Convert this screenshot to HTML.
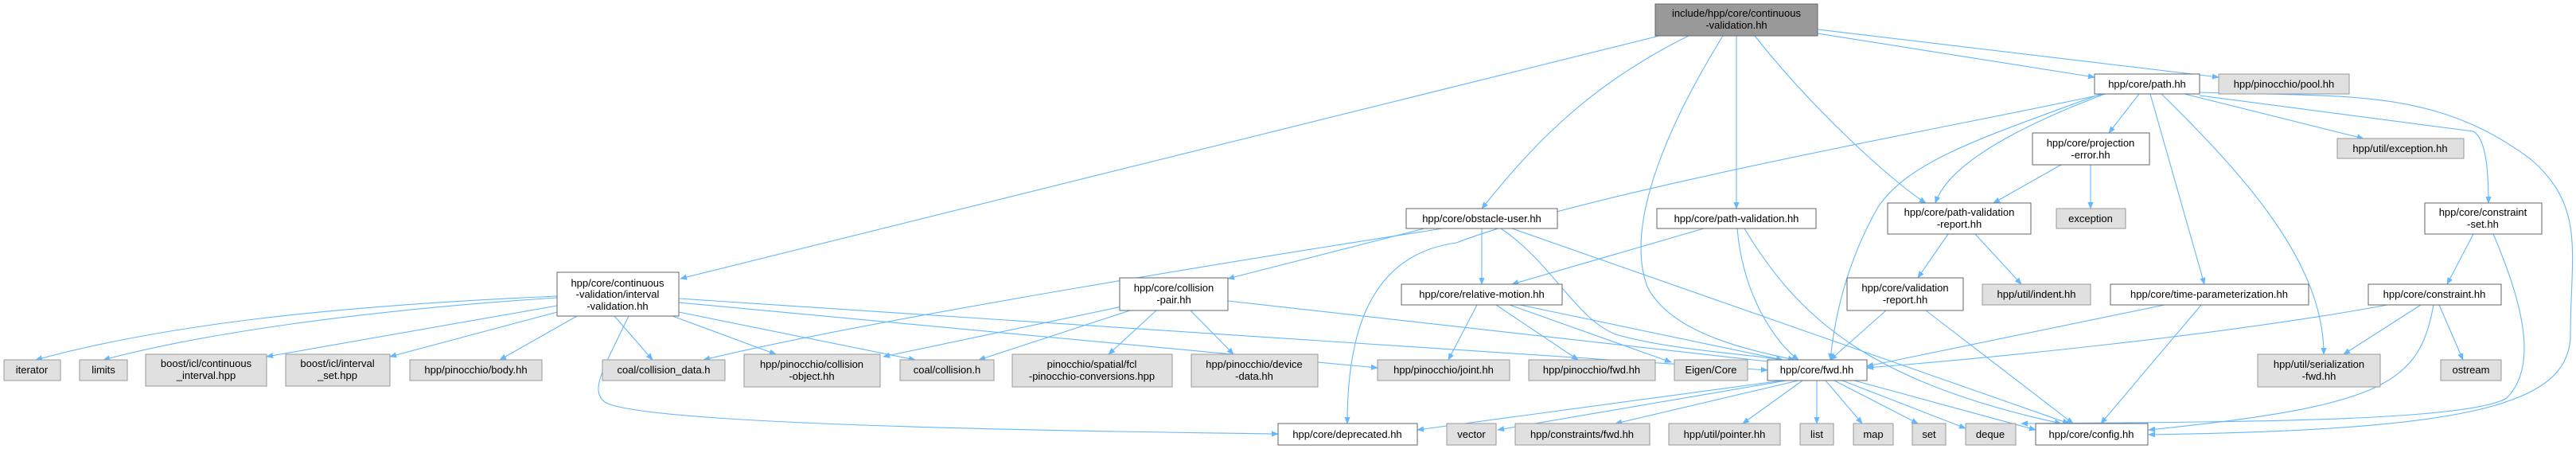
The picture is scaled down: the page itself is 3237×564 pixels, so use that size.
<!DOCTYPE html>
<html><head><meta charset="utf-8"><style>
html,body{margin:0;padding:0;background:#fff;}
svg{display:block;}
text{font-family:"Liberation Sans",sans-serif;font-size:13px;fill:#000;}
.e{fill:none;stroke:#63b8ff;stroke-width:1.1;}
</style></head><body>
<svg width="3237" height="564" viewBox="0 0 3237 564" xmlns="http://www.w3.org/2000/svg">
<defs><marker id="a" viewBox="0 0 10 10" refX="9" refY="5" markerWidth="9" markerHeight="9" orient="auto" markerUnits="userSpaceOnUse"><path d="M0,1 L10,5 L0,9 z" fill="#63b8ff"/></marker></defs>
<g marker-end="url(#a)">
<path class="e" d="M2085,45 L855,350"/>
<path class="e" d="M2122,45 C1990,110 1920,190 1862,262"/>
<path class="e" d="M2165,45 C2100,150 2040,280 2070,360 C2100,420 2200,440 2255,452"/>
<path class="e" d="M2182,45 L2182,262"/>
<path class="e" d="M2205,45 C2280,140 2380,230 2420,255"/>
<path class="e" d="M2284,42 L2632,97"/>
<path class="e" d="M2284,37 L2788,97"/>
<path class="e" d="M2645,118 C2450,160 2000,240 1830,305 C1720,320 1693,420 1693,532"/>
<path class="e" d="M2645,118 C2560,150 2450,200 2432,255"/>
<path class="e" d="M2688,118 L2650,167"/>
<path class="e" d="M2702,118 L2770,357"/>
<path class="e" d="M2716,118 C2820,220 2920,330 2920,445"/>
<path class="e" d="M2745,118 L2970,174"/>
<path class="e" d="M2764,120 L3108,165 C3125,175 3127,220 3127,255"/>
<path class="e" d="M2764,116 C2950,122 3060,110 3180,200 C3250,260 3230,320 3230,420 C3230,510 3100,540 2700,546"/>
<path class="e" d="M2640,118 C2500,170 2400,200 2360,260 C2320,330 2305,400 2300,452"/>
<path class="e" d="M2590,207 L2505,255"/>
<path class="e" d="M2627,207 L2627,262"/>
<path class="e" d="M2448,294 L2410,349"/>
<path class="e" d="M2482,294 L2540,357"/>
<path class="e" d="M2370,390 L2300,452"/>
<path class="e" d="M2420,390 L2605,532"/>
<path class="e" d="M2720,383 L2346,460"/>
<path class="e" d="M2766,383 L2640,532"/>
<path class="e" d="M3108,294 L3075,357"/>
<path class="e" d="M3133,294 C3170,380 3190,460 3150,500 C3100,530 2800,530 2540,532"/>
<path class="e" d="M3000,383 C2800,420 2500,450 2346,462"/>
<path class="e" d="M3042,383 L2945,445"/>
<path class="e" d="M3065,383 L3095,452"/>
<path class="e" d="M3058,383 C3040,480 3000,510 2700,540"/>
<path class="e" d="M1813,287 C1600,320 1100,400 884,452"/>
<path class="e" d="M1790,287 L1543,350"/>
<path class="e" d="M1862,287 L1862,357"/>
<path class="e" d="M1886,287 C1950,330 1980,400 2030,420 C2100,440 2200,445 2240,452"/>
<path class="e" d="M1900,287 L2600,532"/>
<path class="e" d="M2141,287 L1900,357"/>
<path class="e" d="M2183,287 C2190,370 2230,430 2260,452"/>
<path class="e" d="M2192,287 C2260,400 2350,480 2590,532"/>
<path class="e" d="M1856,383 L1820,452"/>
<path class="e" d="M1880,383 L1983,452"/>
<path class="e" d="M1897,383 L2100,455"/>
<path class="e" d="M1910,383 L2240,452"/>
<path class="e" d="M1410,385 L1110,448"/>
<path class="e" d="M1420,390 L1230,452"/>
<path class="e" d="M1453,390 L1393,445"/>
<path class="e" d="M1496,390 L1550,445"/>
<path class="e" d="M1543,378 L2230,455"/>
<path class="e" d="M700,372 C400,385 200,410 45,452"/>
<path class="e" d="M700,374 C450,390 250,420 130,452"/>
<path class="e" d="M700,384 L335,448"/>
<path class="e" d="M700,392 L490,448"/>
<path class="e" d="M725,397 L628,452"/>
<path class="e" d="M772,397 L820,452"/>
<path class="e" d="M790,397 C760,460 740,490 760,505 C800,530 1200,540 1606,545"/>
<path class="e" d="M845,397 L975,445"/>
<path class="e" d="M853,392 L1150,452"/>
<path class="e" d="M853,380 L1731,462"/>
<path class="e" d="M853,375 L2221,465"/>
<path class="e" d="M2240,478 L1781,540"/>
<path class="e" d="M2245,478 L1882,540"/>
<path class="e" d="M2260,478 L2030,532"/>
<path class="e" d="M2265,478 L2190,532"/>
<path class="e" d="M2283,478 L2283,532"/>
<path class="e" d="M2294,478 L2340,532"/>
<path class="e" d="M2305,478 L2410,532"/>
<path class="e" d="M2315,478 L2470,538"/>
<path class="e" d="M2330,478 L2558,540"/>
</g>
<g stroke-width="1">
<rect x="2080" y="5" width="204" height="40" fill="#999" stroke="#666"/>
<text x="2182" y="21" text-anchor="middle">include/hpp/core/continuous</text>
<text x="2182" y="36" text-anchor="middle">-validation.hh</text>
<g fill="#fff" stroke="#666">
<rect x="700" y="342" width="153" height="55"/>
<rect x="1767" y="262" width="190" height="25"/>
<rect x="2082" y="262" width="200" height="25"/>
<rect x="1761" y="357" width="202" height="26"/>
<rect x="1407" y="349" width="136" height="41"/>
<rect x="2221" y="452" width="125" height="26"/>
<rect x="1606" y="532" width="175" height="27"/>
<rect x="2632" y="93" width="132" height="25"/>
<rect x="2554" y="167" width="147" height="40"/>
<rect x="2372" y="255" width="180" height="39"/>
<rect x="2321" y="349" width="146" height="41"/>
<rect x="2652" y="357" width="249" height="26"/>
<rect x="3047" y="255" width="147" height="39"/>
<rect x="2976" y="357" width="167" height="26"/>
<rect x="2558" y="532" width="141" height="27"/>
</g>
<g fill="#e0e0e0" stroke="#999">
<rect x="5" y="452" width="71" height="26"/>
<rect x="100" y="452" width="60" height="26"/>
<rect x="183" y="445" width="152" height="40"/>
<rect x="359" y="445" width="131" height="40"/>
<rect x="515" y="452" width="166" height="26"/>
<rect x="757" y="452" width="154" height="26"/>
<rect x="935" y="445" width="171" height="41"/>
<rect x="1131" y="452" width="118" height="26"/>
<rect x="1272" y="445" width="201" height="41"/>
<rect x="1497" y="445" width="159" height="41"/>
<rect x="1731" y="452" width="166" height="26"/>
<rect x="1921" y="452" width="159" height="26"/>
<rect x="2104" y="452" width="92" height="26"/>
<rect x="1818" y="532" width="62" height="27"/>
<rect x="1904" y="532" width="169" height="27"/>
<rect x="2097" y="532" width="140" height="27"/>
<rect x="2262" y="532" width="42" height="27"/>
<rect x="2329" y="532" width="50" height="27"/>
<rect x="2403" y="532" width="42" height="27"/>
<rect x="2470" y="532" width="63" height="27"/>
<rect x="2788" y="93" width="164" height="25"/>
<rect x="2937" y="174" width="159" height="25"/>
<rect x="2584" y="262" width="87" height="25"/>
<rect x="2491" y="357" width="136" height="26"/>
<rect x="2837" y="445" width="154" height="41"/>
<rect x="3067" y="452" width="76" height="26"/>
</g>
</g>
<g text-anchor="middle">
<text x="776" y="360">hpp/core/continuous</text>
<text x="776" y="374">-validation/interval</text>
<text x="776" y="389">-validation.hh</text>
<text x="1862" y="279">hpp/core/obstacle-user.hh</text>
<text x="2182" y="279">hpp/core/path-validation.hh</text>
<text x="1862" y="374">hpp/core/relative-motion.hh</text>
<text x="1475" y="366">hpp/core/collision</text>
<text x="1475" y="381">-pair.hh</text>
<text x="2283" y="469">hpp/core/fwd.hh</text>
<text x="1693" y="550">hpp/core/deprecated.hh</text>
<text x="2698" y="110">hpp/core/path.hh</text>
<text x="2627" y="184">hpp/core/projection</text>
<text x="2627" y="199">-error.hh</text>
<text x="2462" y="271">hpp/core/path-validation</text>
<text x="2462" y="286">-report.hh</text>
<text x="2394" y="366">hpp/core/validation</text>
<text x="2394" y="381">-report.hh</text>
<text x="2776" y="374">hpp/core/time-parameterization.hh</text>
<text x="3120" y="271">hpp/core/constraint</text>
<text x="3120" y="286">-set.hh</text>
<text x="3059" y="374">hpp/core/constraint.hh</text>
<text x="2628" y="550">hpp/core/config.hh</text>
<text x="40" y="469">iterator</text>
<text x="130" y="469">limits</text>
<text x="259" y="461">boost/icl/continuous</text>
<text x="259" y="476">_interval.hpp</text>
<text x="424" y="461">boost/icl/interval</text>
<text x="424" y="476">_set.hpp</text>
<text x="598" y="469">hpp/pinocchio/body.hh</text>
<text x="834" y="469">coal/collision_data.h</text>
<text x="1020" y="462">hpp/pinocchio/collision</text>
<text x="1020" y="477">-object.hh</text>
<text x="1190" y="469">coal/collision.h</text>
<text x="1372" y="462">pinocchio/spatial/fcl</text>
<text x="1372" y="477">-pinocchio-conversions.hpp</text>
<text x="1576" y="462">hpp/pinocchio/device</text>
<text x="1576" y="477">-data.hh</text>
<text x="1814" y="469">hpp/pinocchio/joint.hh</text>
<text x="2000" y="469">hpp/pinocchio/fwd.hh</text>
<text x="2150" y="469">Eigen/Core</text>
<text x="1849" y="550">vector</text>
<text x="1988" y="550">hpp/constraints/fwd.hh</text>
<text x="2167" y="550">hpp/util/pointer.hh</text>
<text x="2283" y="550">list</text>
<text x="2354" y="550">map</text>
<text x="2424" y="550">set</text>
<text x="2501" y="550">deque</text>
<text x="2870" y="110">hpp/pinocchio/pool.hh</text>
<text x="3016" y="191">hpp/util/exception.hh</text>
<text x="2627" y="279">exception</text>
<text x="2559" y="374">hpp/util/indent.hh</text>
<text x="2914" y="462">hpp/util/serialization</text>
<text x="2914" y="477">-fwd.hh</text>
<text x="3105" y="469">ostream</text>
</g>
</svg>
</body></html>
